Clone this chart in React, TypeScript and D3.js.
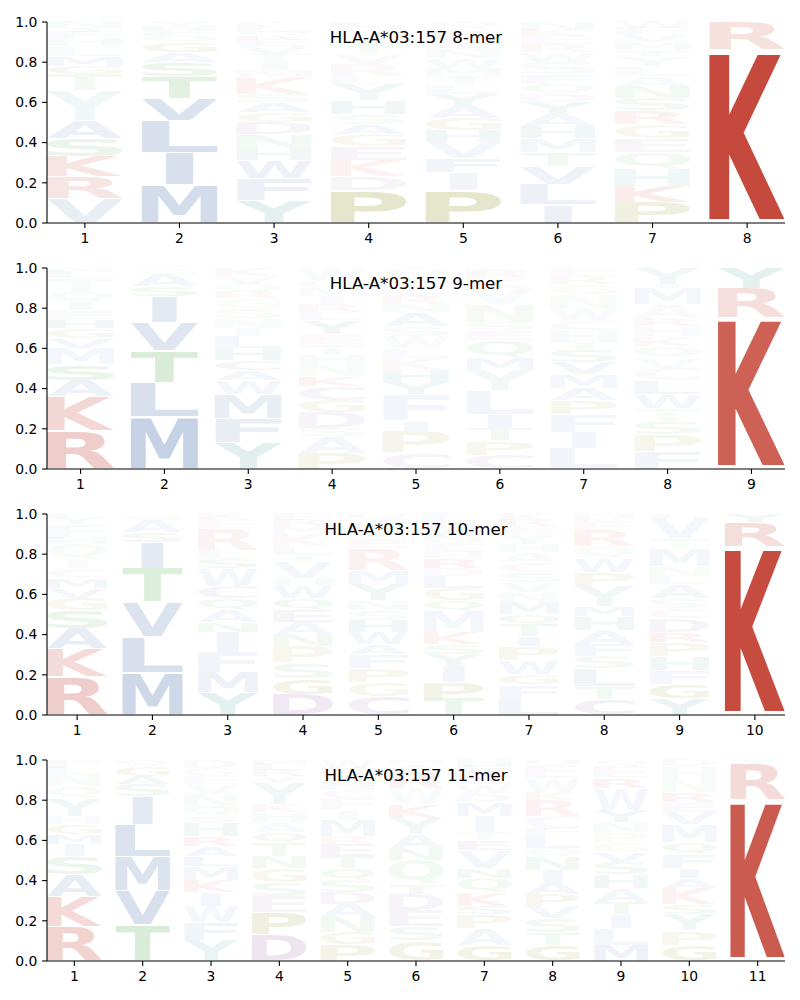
import React, { useMemo } from 'react';
import * as d3 from 'd3';

// ---------- data (letter:height%:opacity%, stacked bottom -> top) ----------
const TITLES = [
  'HLA-A*03:157 8-mer',
  'HLA-A*03:157 9-mer',
  'HLA-A*03:157 10-mer',
  'HLA-A*03:157 11-mer',
];

const LOGO_8 = [
  'V:12:12 R:11:13 K:10:13 S:9:10 A:9:10 Y:15:7 T:8:6 G:4:6 M:5:6 L:5:5 H:4:5 F:3:4 I:2:4 N:3:4',
  'M:19:25 I:16:22 L:16:22 V:11:20 T:11:15 S:7:10 A:5:8 G:5:8 Q:3:5 F:3:5 H:2:4 Y:2:4',
  'Y:11:12 F:11:10 W:9:9 H:6:7 N:7:7 D:6:7 G:5:6 A:5:6 S:4:5 K:8:7 M:4:5 I:4:4 T:4:4 V:4:4 E:3:3 R:2:3 Q:2:3 L:3:3 C:2:3',
  'P:16:20 D:7:8 K:8:8 E:7:7 G:6:6 A:5:6 S:5:5 H:7:6 Y:8:6 L:4:4 R:6:5 V:5:4 T:4:4 I:4:4 M:3:3 Q:3:3 F:2:3',
  'P:16:20 I:9:8 F:7:8 V:8:8 H:6:7 G:6:7 A:6:7 Y:6:6 L:5:5 T:4:5 M:4:5 W:5:5 N:4:4 S:3:4 E:3:3 R:3:3 K:2:3 Q:3:3',
  'I:9:10 L:10:10 V:9:9 T:7:7 M:7:7 H:6:6 A:6:6 Y:6:6 D:4:5 Q:5:5 F:5:5 S:6:5 W:5:5 R:4:4 E:4:4 K:3:3 N:4:3',
  'P:10:12 K:8:10 H:9:7 Q:8:7 E:7:6 G:7:6 R:7:7 S:6:6 N:6:6 A:5:5 L:5:5 Y:5:5 T:3:4 M:4:4 V:4:4 F:3:3 W:3:3',
  'K:86:92 R:14:15',
];

const LOGO_9 = [
  'R:19:25 K:17:20 A:8:10 S:8:10 M:8:8 V:5:7 G:5:6 H:4:6 F:5:5 I:4:4 Q:5:5 T:7:5 L:3:4 N:2:3',
  'M:26:32 L:17:22 T:16:20 V:14:18 I:13:15 S:5:8 A:6:7 G:2:4 Q:1:3',
  'Y:13:14 F:12:12 M:12:12 W:7:8 A:5:7 C:5:6 H:6:6 L:6:6 I:4:5 N:5:5 S:5:5 G:5:5 R:3:4 Q:4:4 V:4:4 K:4:4',
  'P:8:8 A:8:6 S:4:5 D:8:7 G:6:7 C:7:6 K:5:6 N:6:5 H:5:5 T:5:5 E:5:5 Y:7:6 L:4:4 R:4:5 I:4:4 M:4:4 Q:4:4 W:6:4',
  'C:8:8 P:11:8 I:5:7 F:13:7 Y:6:6 H:6:6 K:6:5 L:5:5 W:6:5 S:5:5 A:7:6 N:4:4 R:5:5 E:4:4 T:5:4 Q:4:3',
  'C:7:8 P:7:8 T:6:6 I:7:7 L:12:7 Y:10:6 M:6:6 Q:9:6 E:5:5 S:4:5 N:9:5 V:8:5 K:5:4 R:5:4',
  'L:10:8 I:8:7 F:9:7 P:7:7 A:6:6 M:7:6 V:6:6 S:6:6 T:4:5 H:6:5 C:5:5 W:6:5 N:7:5 G:5:4 R:4:4 E:4:3',
  'F:9:8 P:8:7 S:6:6 T:7:5 W:7:7 L:7:6 C:6:5 V:5:5 Q:6:5 K:5:5 H:5:5 R:4:5 A:7:5 M:8:6 I:2:3 Y:8:6',
  'K:75:80 R:15:16 Y:10:12',
];

const LOGO_10 = [
  'R:19:25 K:14:18 A:10:12 S:9:10 G:6:7 V:5:6 M:5:6 C:5:5 I:4:4 Q:8:5 H:3:4 F:7:5 Y:3:4 L:2:3',
  'M:21:28 L:18:22 V:17:20 T:17:18 I:13:15 S:5:8 A:6:7 G:2:4 Q:1:3',
  'Y:11:12 M:10:10 F:10:8 I:10:8 N:5:6 A:6:6 Q:6:6 C:6:6 W:9:7 S:5:6 L:4:5 R:11:6 E:4:4 K:3:3',
  'D:10:12 G:8:10 S:8:8 P:8:8 N:6:6 A:6:6 E:6:6 Q:6:6 W:6:6 H:4:5 V:8:6 T:4:4 L:4:4 K:6:5 M:4:4 R:3:3 F:3:3',
  'C:9:10 G:7:8 P:7:8 F:7:7 A:5:6 W:6:6 H:6:6 S:5:5 N:5:5 Y:8:7 M:7:6 R:11:7 E:5:5 Q:4:4 K:3:3 T:3:3 D:2:3',
  'T:8:10 P:8:10 I:8:7 Y:6:6 S:5:6 K:6:6 M:11:7 Q:5:6 G:6:6 L:6:6 D:4:5 R:5:6 H:3:4 C:5:5 N:3:4 W:4:4 E:4:4 F:3:3',
  'L:8:8 F:7:7 G:5:6 W:7:7 P:7:7 I:5:6 T:6:6 Q:5:6 M:6:6 N:5:5 V:5:5 S:5:5 C:5:5 A:5:5 H:4:4 Y:5:5 E:4:4 R:3:4 K:3:3',
  'C:8:9 T:6:6 L:9:8 S:6:6 F:6:6 A:7:6 H:7:6 M:5:6 Y:10:7 P:7:6 W:7:6 Q:6:5 R:8:7 E:4:4 K:2:3 N:2:3',
  'Y:8:9 G:7:10 F:7:7 H:7:6 P:7:7 R:5:6 D:7:6 C:5:5 S:5:5 A:7:6 L:4:5 N:5:5 M:9:7 T:5:5 V:10:6 E:2:3',
  'K:84:90 R:12:16 Y:4:8',
];

const LOGO_11 = [
  'R:17:22 K:15:18 A:11:12 S:9:10 I:6:6 M:5:6 G:5:6 H:4:5 Y:9:7 Q:6:5 N:6:5 L:3:4 F:4:4',
  'T:18:20 V:17:22 M:17:20 L:16:20 I:14:15 S:6:8 A:4:7 G:5:6 Q:3:4',
  'Y:10:10 F:9:8 W:8:8 I:7:7 K:6:7 M:7:7 L:5:6 A:5:6 R:5:6 H:7:6 S:3:5 Q:5:5 N:6:5 V:5:5 E:4:4 G:4:4 D:4:4',
  'D:13:15 P:11:12 E:8:8 S:7:8 G:7:8 N:6:6 T:7:6 Q:5:6 A:5:5 H:5:5 K:4:5 Y:11:6 V:3:4 R:3:4 L:3:3 M:2:3',
  'P:8:9 G:6:8 N:8:7 A:6:6 D:6:6 S:6:6 Q:6:6 T:6:6 E:6:6 R:4:5 M:8:6 I:5:5 F:6:5 C:4:4 H:5:5 Y:3:4 K:3:3 W:4:3',
  'G:10:9 S:7:7 E:8:7 D:8:7 T:5:6 Q:12:7 N:6:6 A:7:6 Y:8:6 K:7:6 W:8:5 R:8:6 V:2:3 I:2:3 M:2:3',
  'G:8:10 A:8:7 P:7:7 S:4:6 K:7:7 Q:7:6 N:5:6 V:9:7 E:5:6 T:4:5 I:8:6 M:7:6 D:4:5 W:5:5 L:3:4 R:3:4 F:3:3 H:3:3',
  'G:8:10 T:6:6 S:7:7 V:6:6 P:6:6 A:6:6 I:6:6 N:7:6 Q:4:5 L:6:6 F:4:5 C:6:5 R:8:6 K:4:5 W:7:5 E:7:5 H:2:3',
  'M:8:9 L:8:8 I:7:7 T:6:6 A:7:6 H:7:6 S:6:6 V:5:6 G:5:5 P:5:5 N:5:5 Y:6:6 W:11:6 R:5:6 E:6:5 Q:3:3',
  'G:8:9 P:7:8 Y:8:7 S:5:6 K:8:7 A:5:6 I:5:6 F:7:6 Q:6:6 M:9:7 V:6:6 E:5:5 R:5:6 N:6:5 H:7:5 D:3:3',
  'K:80:83 R:18:18 Y:2:5',
];

const LOGOS = [LOGO_8, LOGO_9, LOGO_10, LOGO_11];
const Y_TICKS = [0, 0.2, 0.4, 0.6, 0.8, 1.0];

// ---------- style ----------
const RED = '#c0392b';
const BLUE = '#4c72b0';
const GREEN = '#3ca03c';
const OLIVE = '#808000';
const TEAL = '#288c8c';
const PURPLE = '#8c50a0';
const COLORS: Record<string, string> = {
  K: RED, R: RED,
  A: BLUE, V: BLUE, L: BLUE, I: BLUE, M: BLUE, F: BLUE, W: BLUE,
  S: GREEN, T: GREEN, N: GREEN, Q: GREEN,
  G: OLIVE, P: OLIVE,
  Y: TEAL, H: TEAL,
  D: PURPLE, E: PURPLE, C: PURPLE,
};

const W = 800;
const H = 1000;
const LEFT = 47;
const RIGHT = 785;
const PANEL_TOP0 = 22;
const PANEL_H = 201;
const PANEL_STEP = 246;
const FS = 200;
const FONT = 'DejaVu Sans';
const VPAD = 0.05;
const LETTER_W = 0.8;
const MAX_STRETCH_REF = 'E';

type Entry = { ch: string; h: number; a: number };
function parseColumn(s: string): Entry[] {
  return s.split(/\s+/).filter(Boolean).map((tok) => {
    const [ch, h, a] = tok.split(':');
    return { ch, h: +h / 100, a: +a / 100 };
  });
}

type Metric = { l: number; r: number; a: number; d: number };

export default function App() {
  const metrics = useMemo(() => {
    const m: Record<string, Metric> = {};
    const c = document.createElement('canvas');
    const ctx = c.getContext('2d');
    const letters = 'ACDEFGHIKLMNPQRSTVWY';
    for (const ch of letters) {
      let v: Metric = { l: 0, r: FS * 0.7, a: FS * 0.73, d: 0 };
      if (ctx) {
        ctx.font = `bold ${FS}px "${FONT}"`;
        const t = ctx.measureText(ch);
        if (t.actualBoundingBoxAscent !== undefined) {
          v = {
            l: t.actualBoundingBoxLeft,
            r: t.actualBoundingBoxRight,
            a: t.actualBoundingBoxAscent,
            d: t.actualBoundingBoxDescent,
          };
        }
      }
      m[ch] = v;
    }
    return m;
  }, []);

  const refW = metrics[MAX_STRETCH_REF].l + metrics[MAX_STRETCH_REF].r;

  const panels = LOGOS.map((logo, pi) => {
    const top = PANEL_TOP0 + pi * PANEL_STEP;
    const bottom = top + PANEL_H;
    const n = logo.length;
    const x = d3.scaleLinear().domain([1 - LETTER_W / 2, n + LETTER_W / 2]).range([LEFT, RIGHT]);
    const y = d3.scaleLinear().domain([0, 1]).range([bottom, top]);
    const glyphs: React.ReactNode[] = [];
    logo.forEach((col, ci) => {
      const pos = ci + 1;
      const entries = parseColumn(col);
      const total = d3.sum(entries, (e) => e.h);
      let cum = 0;
      entries.forEach((e, ei) => {
        const h = e.h / total;
        const y0 = cum + (h * VPAD) / 2;
        const y1 = cum + h - (h * VPAD) / 2;
        cum += h;
        const mt = metrics[e.ch];
        const X0 = x(pos - LETTER_W / 2);
        const X1 = x(pos + LETTER_W / 2);
        const Yt = y(y1);
        const Yb = y(y0);
        const gw = mt.l + mt.r;
        const gh = mt.a + mt.d;
        if (gw <= 0 || gh <= 0) return;
        const boxW = X1 - X0;
        const sx = Math.min(boxW / gw, boxW / refW);
        const sy = (Yb - Yt) / gh;
        const inkW = gw * sx;
        const left = X0 + (boxW - inkW) / 2;
        glyphs.push(
          <text
            key={`${pi}-${ci}-${ei}`}
            x={0}
            y={0}
            fontSize={FS}
            fontFamily={FONT}
            fontWeight="bold"
            fill={COLORS[e.ch] || '#888'}
            fillOpacity={e.a}
            transform={`translate(${left + mt.l * sx},${Yt + mt.a * sy}) scale(${sx},${sy})`}
          >
            {e.ch}
          </text>
        );
      });
    });
    const xTicks = d3.range(1, n + 1);
    return (
      <g key={pi}>
        {glyphs}
        <line x1={LEFT} x2={LEFT} y1={top} y2={bottom} stroke="#000" strokeWidth={1.1} />
        <line x1={LEFT} x2={RIGHT} y1={bottom} y2={bottom} stroke="#000" strokeWidth={1.1} />
        {Y_TICKS.map((t) => (
          <g key={`y${t}`}>
            <line x1={LEFT - 4.9} x2={LEFT} y1={y(t)} y2={y(t)} stroke="#000" strokeWidth={1.1} />
            <text x={LEFT - 9.7} y={y(t)} dy="0.35em" textAnchor="end" fontSize={13.9} fontFamily={FONT} fill="#000">
              {t.toFixed(1)}
            </text>
          </g>
        ))}
        {xTicks.map((t) => (
          <g key={`x${t}`}>
            <line x1={x(t)} x2={x(t)} y1={bottom} y2={bottom + 4.9} stroke="#000" strokeWidth={1.1} />
            <text x={x(t)} y={bottom + 9.7} dy="0.76em" textAnchor="middle" fontSize={13.9} fontFamily={FONT} fill="#000">
              {t}
            </text>
          </g>
        ))}
        <text x={(LEFT + RIGHT) / 2} y={top + 20.5} textAnchor="middle" fontSize={16.67} fontFamily={FONT} fill="#000">
          {TITLES[pi]}
        </text>
      </g>
    );
  });

  return (
    <svg
      width={W}
      height={H}
      viewBox={`0 0 ${W} ${H}`}
      style={{ position: 'absolute', left: 0, top: 0, background: '#fff' }}
    >
      <rect x={0} y={0} width={W} height={H} fill="#fff" />
      {panels}
    </svg>
  );
}
